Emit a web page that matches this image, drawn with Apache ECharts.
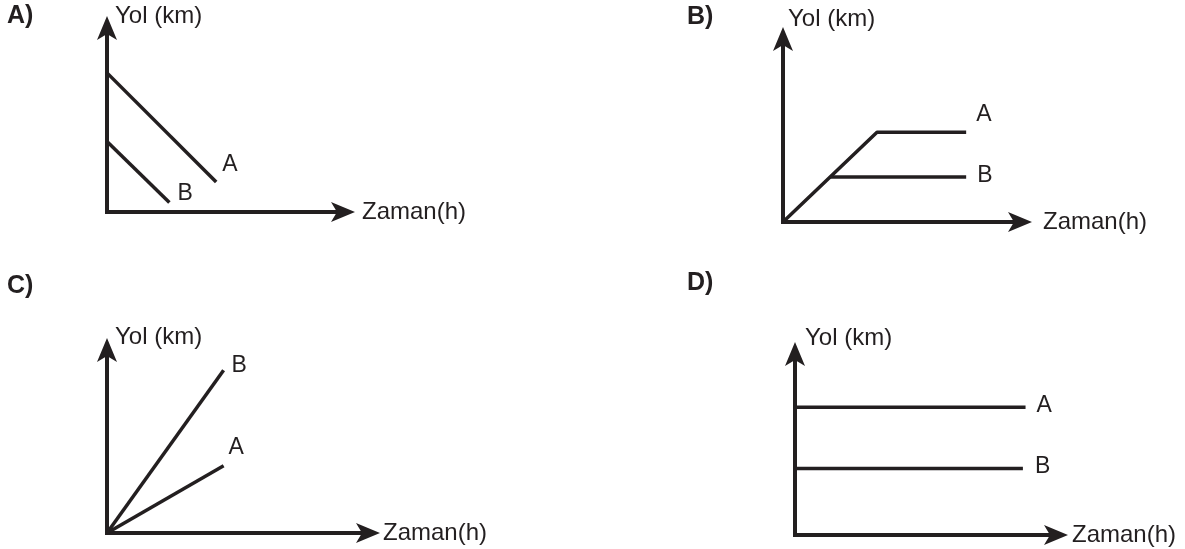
<!DOCTYPE html>
<html>
<head>
<meta charset="utf-8">
<script src="https://cdn.jsdelivr.net/npm/echarts@6/dist/echarts.min.js"></script>
<style>
  html, body { margin: 0; padding: 0; background: #fff; }
  #chart-container { width: 1185px; height: 549px; }
</style>
</head>
<body>
<div id="chart-container"></div>
<script>
// panel letters and axis titles
var panelLetters = ['A)', 'B)', 'C)', 'D)'];
var xName = 'Zaman(h)';
var yName = 'Yol (km)';

// each panel: two lines, values in arbitrary units (0..10 on both axes)
var aLineA = [[0, 7.4], [4.55, 1.6]];
var aLineB = [[0, 3.75], [2.6, 0.5]];
var bLineA = [[0, 0], [3.9, 4.8], [7.6, 4.8]];
var bLineB = [[1.95, 2.4], [7.6, 2.4]];
var cLineA = [[0, 0], [4.4, 3.6]];
var cLineB = [[0, 0], [4.4, 8.7]];
var dLineA = [[0, 6.9], [8.7, 6.9]];
var dLineB = [[0, 3.6], [8.6, 3.6]];

var ink = '#231f20';
var font = "'Liberation Sans', Arial, sans-serif";

var dom = document.getElementById('chart-container');
var myChart = echarts.init(dom, null, { renderer: 'canvas' });

// grid boxes (origin at left/bottom, arrow tips a bit beyond the far ends)
var grids = [
    { left: 107, top: 24, width: 240, height: 188 },
    { left: 783, top: 35, width: 241, height: 187 },
    { left: 107, top: 346, width: 265, height: 187 },
    { left: 795, top: 350, width: 265, height: 185 }
];
var xNameGap = [15, 19, 11, 12];
var xNamePadBottom = [10, 14, 10, 10];
var yNameGap = [8, 16, 9, 12];
var yNamePadLeft = [8, 5, 8, 10];
var titlePos = [[7, 4], [687, 5], [7, 274], [687, 271]];

function axisLine() {
    return {
        show: true,
        onZero: false,
        symbol: ['none', 'arrow'],
        symbolSize: [15, 24],
        symbolOffset: [0, 8],
        lineStyle: { color: ink, width: 4, cap: 'square' }
    };
}

var xAxes = [], yAxes = [], titles = [];
for (var i = 0; i < 4; i++) {
    xAxes.push({
        type: 'value', gridIndex: i, min: 0, max: 10,
        axisLine: axisLine(), axisTick: { show: false },
        axisLabel: { show: false }, splitLine: { show: false },
        name: xName, nameLocation: 'end', nameGap: xNameGap[i],
        nameTextStyle: {
            color: ink, fontSize: 24, fontFamily: font,
            align: 'left', verticalAlign: 'middle',
            padding: [0, 0, xNamePadBottom[i], 0]
        }
    });
    yAxes.push({
        type: 'value', gridIndex: i, min: 0, max: 10,
        axisLine: axisLine(), axisTick: { show: false },
        axisLabel: { show: false }, splitLine: { show: false },
        name: yName, nameLocation: 'end', nameGap: yNameGap[i],
        nameTextStyle: {
            color: ink, fontSize: 24, fontFamily: font,
            align: 'left', verticalAlign: 'middle',
            padding: [0, 0, 0, yNamePadLeft[i]]
        }
    });
    titles.push({
        text: panelLetters[i], left: titlePos[i][0], top: titlePos[i][1], padding: 0,
        textStyle: { color: ink, fontSize: 25, fontWeight: 'bold', fontFamily: font }
    });
}

function lineSeries(name, data, idx, offset) {
    return {
        name: name,
        type: 'line',
        xAxisIndex: idx,
        yAxisIndex: idx,
        data: data,
        symbol: 'none',
        clip: false,
        lineStyle: { color: ink, width: 3.5 },
        endLabel: {
            show: true,
            formatter: function (p) { return p.seriesName; },
            distance: 0,
            offset: offset,
            color: ink,
            fontSize: 23,
            fontFamily: font
        }
    };
}

var option = {
    animation: false,
    title: titles,
    grid: grids.map(function (g) {
        return Object.assign({ containLabel: false, outerBoundsMode: 'none' }, g);
    }),
    xAxis: xAxes,
    yAxis: yAxes,
    series: [
        lineSeries('A', aLineA, 0, [6, -17]),
        lineSeries('B', aLineB, 0, [8, -9]),
        lineSeries('A', bLineA, 1, [10, -18]),
        lineSeries('B', bLineB, 1, [11, -1]),
        lineSeries('A', cLineA, 2, [5, -18]),
        lineSeries('B', cLineB, 2, [8, -5]),
        lineSeries('A', dLineA, 3, [11, -2]),
        lineSeries('B', dLineB, 3, [12, -2])
    ]
};

myChart.setOption(option);
window.addEventListener('resize', myChart.resize);
</script>
</body>
</html>
